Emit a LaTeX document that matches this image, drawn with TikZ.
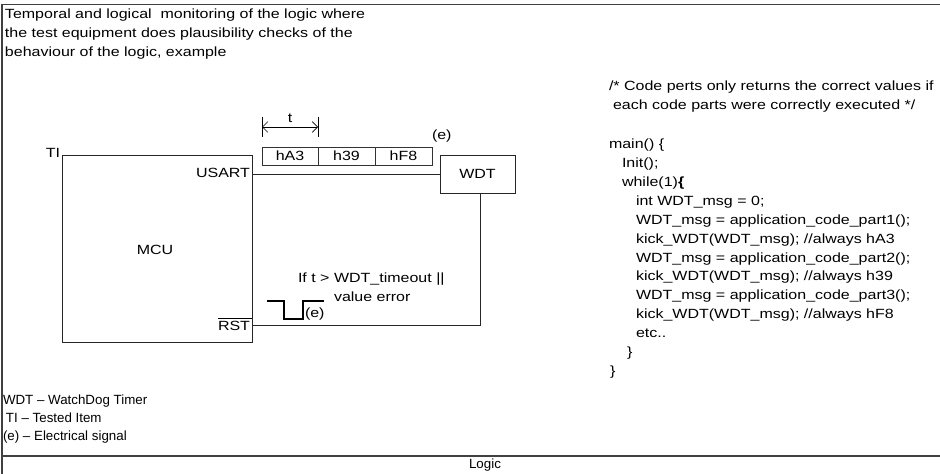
\documentclass[tikz,border=0pt]{standalone}
\usepackage{fontspec}
\setmainfont{Liberation Sans}[FakeStretch=1.2]
\newfontfamily\legendfont{Liberation Sans}[Ligatures=TeX]
\usetikzlibrary{arrows.meta}
\begin{document}
\begin{tikzpicture}[x=0.75pt,y=-0.75pt,
  every node/.style={inner sep=0pt,outer sep=0pt,font=\fontsize{10}{12}\selectfont},
  frame/.style={line width=0.9pt,draw=black!75},
  wire/.style={line width=0.6pt,draw=black!85},
  bytebox/.style={draw=black!80,line width=0.5pt,minimum height=13.5pt,anchor=north west},
  txt/.style={anchor=base west},
  legend/.style={anchor=base west,font=\legendfont\fontsize{10}{12}\selectfont},
  code/.style={anchor=base west},
  dim/.style={line width=0.5pt,{Straight Barb[length=4pt,width=8pt]}-{Straight Barb[length=4pt,width=8pt]}}]
\useasboundingbox (0,0) rectangle (940,474);

% outer frame and footer band
\draw[frame] (2,474) -- (2,4.5) -- (940,4.5);
\draw[frame] (2,456) -- (940,456);
\node[font=\legendfont\fontsize{10}{12}\selectfont] (logic) at (485,465.5) {Logic};

% heading
\node[txt] (h1) at (5,19) {Temporal and logical\ \ monitoring of the logic where};
\node[txt] (h2) at (5,38) {the test equipment does plausibility checks of the};
\node[txt] (h3) at (5,57) {behaviour of the logic, example};

% MCU block
\draw[wire] (62,155) rectangle (252,342);
\node (mcu) at (155,250) {MCU};
\node[anchor=base east] (ti) at (60,158) {TI};
\node[anchor=base east] (usart) at (250,178) {USART};
\node[anchor=base east] (rst) at (250,330) {RST};
\draw[line width=0.5pt] (rst.north west) ++(0,-2.5) coordinate (ol1) -- (ol1 -| 252,0);

% watchdog block
\node[draw=black!85,line width=0.6pt,minimum width=56.25pt,minimum height=28.5pt,anchor=north west] (wdt) at (440,155) {WDT};

% serial link and reset line
\coordinate (usartPin) at (252,174);
\coordinate (rstPin) at (252,325);
\draw[wire] (usartPin) -- (usartPin -| wdt.west);
\draw[wire] (wdt.south) ++(2.5,0) coordinate (wdtOut) -- (wdtOut |- rstPin) -- (rstPin);

% transmitted bytes
\node[bytebox,minimum width=42pt] (b1) at (262,147) {hA3};
\node[bytebox,minimum width=42.75pt] (b2) at (b1.north east) {h39};
\node[bytebox,minimum width=42.75pt] (b3) at (b2.north east) {hF8};
\node[anchor=base west] (e1) at (432,140) {(e)};

% period between bytes
\coordinate (tL) at (262,127);
\coordinate (tR) at (318,127);
\draw[line width=0.5pt] (262,117) -- (262,137) (318,117) -- (318,137);
\draw[dim] (tL) -- (tR);
\node[anchor=base] (tlab) at (290,123) {t};

% reset pulse
\draw[line width=1pt] (267,301) -- (284,301) -- (284,319) -- (303,319) -- (303,301) -- (324,301);
\node[anchor=base west] (e2) at (305,318) {(e)};
\node[anchor=base west] (cond1) at (298,283) {If t > WDT\_timeout ||};
\node[anchor=base west] (cond2) at (334,301) {value error};

% firmware listing
\node[code] (c1) at (609,91) {/* Code perts only returns the correct values if};
\node[code] (c2) at (613,110) {each code parts were correctly executed */};
\node[code] (c3) at (609,149) {main() \{};
\node[code] (c4) at (622,168) {Init();};
\node[code] (c5) at (622,187) {while(1){\bfseries\{}};
\node[code] (c6) at (636,206) {int WDT\_msg = 0;};
\node[code] (c7) at (636,225) {WDT\_msg = application\_code\_part1();};
\node[code] (c8) at (636,244) {kick\_WDT(WDT\_msg); //always hA3};
\node[code] (c9) at (636,263) {WDT\_msg = application\_code\_part2();};
\node[code] (c10) at (636,281) {kick\_WDT(WDT\_msg); //always h39};
\node[code] (c11) at (636,300) {WDT\_msg = application\_code\_part3();};
\node[code] (c12) at (636,319) {kick\_WDT(WDT\_msg); //always hF8};
\node[code] (c13) at (636,338) {etc..};
\node[code] (c14) at (627,356) {\}};
\node[code] (c15) at (610,375) {\}};

% legend
\node[legend] (l1) at (3,404) {WDT -- WatchDog Timer};
\node[legend] (l2) at (6,422) {TI -- Tested Item};
\node[legend] (l3) at (3,440) {(e) -- Electrical signal};
\end{tikzpicture}
\end{document}
